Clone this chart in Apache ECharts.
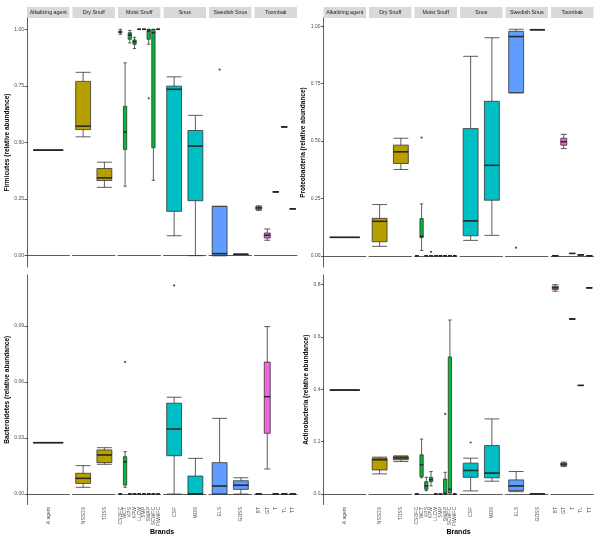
<!DOCTYPE html>
<html>
<head>
<meta charset="utf-8">
<script src="https://cdn.jsdelivr.net/npm/echarts@6/dist/echarts.min.js"></script>
<style>
  html, body { margin: 0; background: #fff; }
  #chart { width: 604px; height: 545px; }
</style>
</head>
<body>
<div id="chart"></div>
<script>
// facet groups and the brands inside each one
const groups = ['Alkalizing agent', 'Dry Snuff', 'Moist Snuff', 'Snus', 'Swedish Snus', 'Toombak'];
const brands = [
  ['A agent'],
  ['NSSDS', 'TDSS'],
  ['CSOFC', 'WCT', 'KPS', 'KPW', 'LLCW', 'SMP', 'SWAP', 'SCWFC', 'FWWFC'],
  ['CSF', 'MOS'],
  ['ELS', 'GOSS'],
  ['BT', 'GT', 'T', 'TL', 'TT']
];
const groupColors = ['#F8766D', '#B79F00', '#00BA38', '#00BFC4', '#619CFF', '#F564E3'];

// box values: [min, q1, median, q3, max] per brand, one list per group
const firmicutesBox = [
  [[0.466, 0.466, 0.466, 0.466, 0.466]],
  [[0.525, 0.557, 0.572, 0.77, 0.81], [0.302, 0.332, 0.344, 0.385, 0.413]],
  [[0.978, 0.985, 0.988, 0.992, 1.0], [0.307, 0.469, 0.547, 0.66, 0.852], [0.94, 0.956, 0.975, 0.985, 0.995],
   [0.915, 0.934, 0.945, 0.953, 0.965], [1, 1, 1, 1, 1], [1, 1, 1, 1, 1], [0.934, 0.956, 0.993, 1.0, 1.0],
   [0.333, 0.477, 0.985, 1.0, 1.0], [1, 1, 1, 1, 1]],
  [[0.088, 0.196, 0.735, 0.749, 0.79], [0, 0.243, 0.484, 0.553, 0.62]],
  [[0, 0, 0.009, 0.218, 0.218], [0.006, 0.006, 0.006, 0.006, 0.006]],
  [[0.2, 0.205, 0.211, 0.216, 0.22], [0.068, 0.078, 0.09, 0.1, 0.118], [0.282, 0.282, 0.282, 0.282, 0.282],
   [0.569, 0.569, 0.569, 0.569, 0.569], [0.207, 0.207, 0.207, 0.207, 0.207]]
];
const firmicutesOut = [[], [], [[6, 0.695]], [], [[0, 0.822]], []];

const proteoBox = [
  [[0.08, 0.08, 0.08, 0.08, 0.08]],
  [[0.041, 0.061, 0.15, 0.163, 0.223], [0.376, 0.402, 0.453, 0.482, 0.512]],
  [[0, 0, 0, 0, 0], [0.023, 0.079, 0.085, 0.162, 0.226], [0, 0, 0, 0, 0], [0, 0, 0, 0, 0], [0, 0, 0, 0, 0],
   [0, 0, 0, 0, 0], [0, 0, 0, 0, 0], [0, 0, 0, 0, 0], [0, 0, 0, 0, 0]],
  [[0.067, 0.087, 0.152, 0.554, 0.869], [0.089, 0.242, 0.394, 0.673, 0.95]],
  [[0.71, 0.71, 0.955, 0.978, 0.987], [0.985, 0.985, 0.985, 0.985, 0.985]],
  [[0, 0, 0, 0, 0], [0.467, 0.482, 0.497, 0.512, 0.529], [0.01, 0.01, 0.01, 0.01, 0.01],
   [0.004, 0.004, 0.004, 0.004, 0.004], [0, 0, 0, 0, 0]]
];
const proteoOut = [[], [], [[1, 0.515], [3, 0.017]], [], [[0, 0.035]], []];

const bacteroBox = [
  [[0.0275, 0.0275, 0.0275, 0.0275, 0.0275]],
  [[0.0036, 0.0057, 0.0084, 0.0111, 0.0152], [0.0159, 0.0168, 0.0209, 0.0236, 0.0248]],
  [[0, 0, 0, 0, 0], [0.0036, 0.0048, 0.0173, 0.02, 0.0227], [0, 0, 0, 0, 0], [0, 0, 0, 0, 0], [0, 0, 0, 0, 0],
   [0, 0, 0, 0, 0], [0, 0, 0, 0, 0], [0, 0, 0, 0, 0], [0, 0, 0, 0, 0]],
  [[0, 0.0205, 0.0348, 0.0486, 0.0518], [0, 0, 0, 0.0096, 0.0191]],
  [[0, 0, 0.0043, 0.0168, 0.0405], [0, 0.0025, 0.0047, 0.0071, 0.0087]],
  [[0, 0, 0, 0, 0], [0.0134, 0.0325, 0.0521, 0.0706, 0.0896], [0, 0, 0, 0, 0], [0, 0, 0, 0, 0], [0, 0, 0, 0, 0]]
];
const bacteroOut = [[], [], [[1, 0.0706]], [[0, 0.1116]], [], []];

const actinoBox = [
  [[0.397, 0.397, 0.397, 0.397, 0.397]],
  [[0.077, 0.092, 0.131, 0.137, 0.141], [0.124, 0.131, 0.138, 0.143, 0.146]],
  [[0, 0, 0, 0, 0], [0.062, 0.067, 0.112, 0.15, 0.21], [0.013, 0.018, 0.031, 0.047, 0.064],
   [0.031, 0.047, 0.055, 0.064, 0.086], [0, 0, 0, 0, 0], [0, 0, 0, 0, 0], [0, 0, 0.003, 0.057, 0.083],
   [0.004, 0.004, 0.018, 0.524, 0.665], [0, 0, 0, 0, 0]],
  [[0.012, 0.064, 0.09, 0.118, 0.137], [0.049, 0.062, 0.08, 0.185, 0.287]],
  [[0.009, 0.013, 0.031, 0.054, 0.086], [0, 0, 0, 0, 0]],
  [[0.775, 0.782, 0.788, 0.794, 0.8], [0.105, 0.109, 0.114, 0.118, 0.122], [0.669, 0.669, 0.669, 0.669, 0.669],
   [0.415, 0.415, 0.415, 0.415, 0.415], [0.788, 0.788, 0.788, 0.788, 0.788]]
];
const actinoOut = [[], [], [[6, 0.306]], [[0, 0.197]], [], []];

const panels = [
  { name: 'Firmicutes (relative abundance)', col: 0, row: 0, box: firmicutesBox, out: firmicutesOut,
    min: -0.05, max: 1.05, ticks: [0, 0.25, 0.5, 0.75, 1], digits: 2 },
  { name: 'Proteobacteria (relative abundance)', col: 1, row: 0, box: proteoBox, out: proteoOut,
    min: -0.049, max: 1.036, ticks: [0, 0.25, 0.5, 0.75, 1], digits: 2 },
  { name: 'Bacteroidetes (relative abundance)', col: 0, row: 1, box: bacteroBox, out: bacteroOut,
    min: -0.0056, max: 0.1172, ticks: [0, 0.03, 0.06, 0.09], digits: 2 },
  { name: 'Actinobacteria (relative abundance)', col: 1, row: 1, box: actinoBox, out: actinoOut,
    min: -0.04, max: 0.837, ticks: [0, 0.2, 0.4, 0.6, 0.8], digits: 1 }
];

const font = 'Liberation Sans, Arial, sans-serif';
const colLeft = [27, 323.5];
const facetW = 42.5, facetGap = 3;
const rowTop = [18, 275], rowH = [249, 229.5];

const grid = [], xAxis = [], yAxis = [], series = [], graphic = [];

panels.forEach((p, pi) => {
  groups.forEach((g, f) => {
    const gi = pi * 6 + f;
    const left = colLeft[p.col] + f * (facetW + facetGap);
    grid.push({ left: left, top: rowTop[p.row], width: facetW, height: rowH[p.row] });
    xAxis.push({
      type: 'category', gridIndex: gi, data: brands[f],
      axisLine: { lineStyle: { color: '#333', width: 0.8 } },
      axisTick: { length: 2.5, alignWithLabel: true, lineStyle: { color: '#333', width: 0.8 } },
      axisLabel: { show: p.row === 1, rotate: 90, fontSize: 5, color: '#4d4d4d', margin: 2.5, fontFamily: font,
        interval: 0 }
    });
    yAxis.push({
      type: 'value', gridIndex: gi, min: p.min, max: p.max, show: f === 0,
      splitLine: { show: false },
      axisLine: { show: true, lineStyle: { color: '#333', width: 0.8 } },
      axisTick: { show: true, length: 2.5, customValues: p.ticks, lineStyle: { color: '#333', width: 0.8 } },
      axisLabel: { fontSize: 5, color: '#4d4d4d', margin: 3, fontFamily: font, customValues: p.ticks,
        formatter: v => v.toFixed(p.digits) },
      name: f === 0 ? p.name : '', nameLocation: 'middle', nameGap: 14,
      nameTextStyle: { fontSize: 6.5, fontWeight: 'bold', color: '#000', fontFamily: font }
    });
    const boxPx = facetW / brands[f].length * 0.7;
    series.push({
      type: 'boxplot', xAxisIndex: gi, yAxisIndex: gi, data: p.box[f],
      boxWidth: [boxPx, boxPx], silent: true,
      itemStyle: { color: groupColors[f], borderColor: '#333', borderWidth: 0.8 }
    });
    series.push({
      type: 'scatter', xAxisIndex: gi, yAxisIndex: gi, silent: true,
      data: p.box[f].map((b, i) => [i, b[2]]),
      symbol: 'rect', symbolSize: [boxPx, 1.6], itemStyle: { color: '#222' }
    });
    series.push({
      type: 'scatter', xAxisIndex: gi, yAxisIndex: gi, silent: true,
      data: p.out[f], symbolSize: 2.2, itemStyle: { color: '#222' }
    });
    if (p.row === 0) {
      graphic.push({ type: 'rect', shape: { x: left, y: 7, width: facetW, height: 11 }, style: { fill: '#d9d9d9' } });
      graphic.push({ type: 'text', style: { text: g, x: left + facetW / 2, y: 12.5, align: 'center',
        verticalAlign: 'middle', fontSize: 5.3, fontFamily: font, fill: '#1a1a1a' } });
    }
  });
});

colLeft.forEach(l => {
  graphic.push({ type: 'text', style: { text: 'Brands', x: l + 135, y: 532, align: 'center',
    verticalAlign: 'middle', fontSize: 7, fontWeight: 'bold', fontFamily: font, fill: '#000' } });
});

const chart = echarts.init(document.getElementById('chart'));
chart.setOption({
  animation: false,
  backgroundColor: '#fff',
  grid: grid,
  xAxis: xAxis,
  yAxis: yAxis,
  series: series,
  graphic: graphic
});
</script>
</body>
</html>
